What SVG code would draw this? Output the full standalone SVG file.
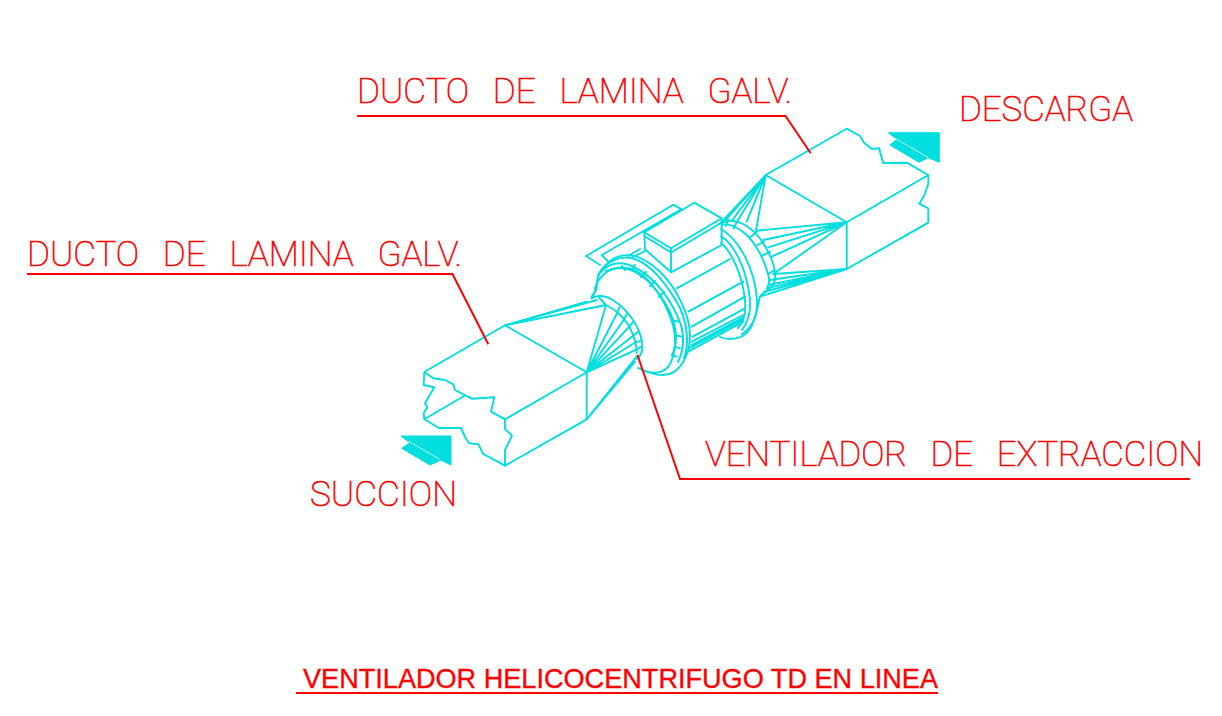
<svg xmlns="http://www.w3.org/2000/svg" width="1222" height="716" viewBox="0 0 1222 716">
<style>
.c{fill:none;stroke:#00dede;stroke-width:1.9;stroke-linejoin:round;stroke-linecap:round}
.t{fill:#00dede;stroke:#00dede;stroke-width:1}
.w{stroke:#fff;stroke-width:.8;fill:none}
.l{fill:none;stroke:#f00;stroke-width:2}
text{fill:#f00;white-space:pre}
.m{font-family:"Roboto","Liberation Sans",sans-serif;font-weight:100;font-size:35px;stroke:#f00;stroke-width:.65;word-spacing:3.5px}
.h{font-family:"Liberation Sans",Arial,sans-serif;font-size:27.500px;stroke:#f00;stroke-width:.35}
</style>
<rect width="1222" height="716" fill="#fff"/>
<g id="duct-suction">
<path class="c" d="M424.3 372L505 325.3L586.7 372.3L505 419.3M424.3 372L433.3 378.3L445 380L453.3 384.3L455 390L471.7 398.7L494.3 397.3L491 411.7L505 419.3M424.3 372L423.7 385L434.3 387.3L425 403.3L427.3 407.3L423.7 413.3L424.3 419.3L464 396M424.3 419.3L439 428L461 428L465.7 438.3L469.3 443.3L478.3 444.3L483.3 454L505 465.7L586.7 419.3L586.7 372.3M505 419.3L505 429L512 435.7L505 450L505 465.7"/>
<path class="c" d="M505 325.3L586.7 301.7M505 325.3L596.7 300M505 325.3L606 305M586.7 372.3L606 305M586.7 372.3L616.7 314M586.7 372.3L623.3 320.7M586.7 372.3L629.3 326.7M586.7 372.3L634 335M586.7 372.3L635.7 342.3M586.7 372.3L636.7 349.3M586.7 419.3L637 356M586.7 419.3L635 361.7M586.7 419.3L630 365"/>
</g>
<g id="duct-discharge">
<path class="c" d="M765.7 175L846.7 128.7L860 136L864 142.7L872 149L879 148.3L883.3 163L906.7 162.7L928.3 175L846.7 222.3L765.7 175M846.7 222.3L846.7 269L928.3 222.7L928.3 208.3L919.3 203.7L924 196L928.3 184L928.3 175"/>
<path class="c" d="M765.7 175L720.7 223M765.7 175L723.3 222.7M765.7 175L731.7 221M765.7 175L738 220M765.7 175L746.7 221.7M765.7 175L756 230.7M846.7 222.3L756 230.7M846.7 222.3L763.3 240M846.7 222.3L768.3 247.3M846.7 222.3L771.7 256.7M846.7 222.3L773.3 274M846.7 269L773.3 274M846.7 269L770 280M846.7 269L768.3 285M846.7 269L766.7 288.3M846.7 269L764 292M846.7 269L760 296.7"/>
</g>
<g id="fan">
<path class="c" d="M586 256L673.3 204.7L681.7 209.3L643.3 231.7M601.7 255L680 210M586 256L600 265M601.7 255L608.3 261.7M640 249L628 256M645 251L633 257"/>
<path class="c" d="M644.3 232.3L694.3 202.7L721.7 218.3L671 248.3L644.3 232.3M645 236.500L671 252.500L721.7 222.500M644.3 232.3L645 249.3L671 272.3M671 248.3L671 272.3M721.7 218.3L721.7 245L671 272.3"/>
<path class="c" d="M676.7 288.3L730 259M688.3 311.7L743.3 281.7M691.7 326.7L745 296.7M692.7 336.7L745 308.3M691.7 341.7L743.3 315M691.7 345L743.3 317.3M690 348L743.3 319.3M688.3 351.7L743.3 321.7"/>
<path class="c" d="M721.7 222.7C728 220 735 220 743 224C757 231 766 246 771 258C776 270 777 280 771.7 286.7C768 291 762 293 760 296.7C758 303 757 318 750 328.7C745 337 737 339 730 339C725 339 722 338 720 337"/>
<path class="c" d="M721.7 225C728 223 735 225 746.7 235C755 243 764 258 768.3 275C770 281 769 285 767.3 288"/>
<path class="c" d="M728 219.500L726 226M737 221.500L733.500 228.500M756.7 231.7L750.7 236.7M764 241.7L757.7 245M770 251.7L762.7 255.3M774.3 270L768.3 274"/>
<path class="c" d="M721 229C740 240 755 270 757 300C758 315 752 328 742 334M721 236C735 245 747 270 750 300C751 312 748 322 742 330M721 243C730 250 742 272 745 300C746 312 744 322 738 328"/>
<path class="c" d="M591.7 296.7C594 292 597 290 596.7 288C596 278 600 268 613 259C625 252 641 254 660 271.7C676 287 690 315 690 335C690 355 680 375 663 375C655 375 648 373 638 368"/>
<path class="c" d="M598 275C605 263 618 255 633 258.500C650 263 668 285 680 308C688 326 689 345 684 358"/>
<path class="c" d="M601 272C612 260 625 262 636.7 268.3C655 278 672 300 681 325C685 340 683 352 678 362"/>
<path class="c" d="M606 271C618 266 630 268 640 275C655 285 668 305 673 320C677 332 677 345 672 356"/>
<path class="c" d="M591.7 298.3C594 294 596 292 595 288.3C597 282 598 280 603.3 275C610 268 622 265 635 270C650 278 665 300 672 322C677 338 676 355 668.3 366.7C662 374 650 375 640 368.3"/>
<path class="c" d="M591.7 298.3C597 295 605 295 612 299.500C626 308 640 325 642.3 344C643 351 641 356 636.7 359"/>
<path class="c" d="M606 305C615 309 625 318 630 328C635 338 637 346 636.7 353.3M599 297.500L606 305"/>
<path class="c" d="M619.3 307.3L616.7 314M626.7 314L623.3 320.7M633.3 321.7L629.3 326.7M638.3 331.7L634 335M641 340.7L635.7 342.3M641.7 346.7L636.7 349.3"/>
<path class="c" d="M678.3 321.7L671.7 320M681.7 336.7L675 335M680 348.3L674.3 346.7M676.7 356.7L671.7 355M621.7 266L625 270M635 265L632 270M646 272L641 277M655 281L650 286M664 292L659 297"/>
</g>
<g id="arrows">
<path class="t" d="M401 436L451 436L451 465L441 460L430 465L401.7 448.3L410 442.7Z"/>
<path class="w" d="M409 441.500L440 459.500"/>
<path class="t" d="M888.3 132.7L939.3 132.7L939.3 162.3L928 157.7L919 162.3L890 145L896.7 139.3Z"/>
<path class="w" d="M895 138.3L928.3 157.7"/>
</g>
<g id="leaders">
<path class="l" d="M357 116H785.500L810.700 153.300"/>
<path class="l" d="M27 274H452.500L488.300 344.300"/>
<path class="l" d="M1190 479H680L637.500 355"/>
<path class="l" d="M296 693H938"/>
</g>
<g id="labels">
<text class="m" x="357" y="103" textLength="435" lengthAdjust="spacingAndGlyphs">DUCTO  DE  LAMINA  GALV.</text>
<text class="m" x="27" y="266" textLength="435" lengthAdjust="spacingAndGlyphs">DUCTO  DE  LAMINA  GALV.</text>
<text class="m" x="959" y="121" textLength="174" lengthAdjust="spacingAndGlyphs">DESCARGA</text>
<text class="m" x="310" y="506" textLength="147" lengthAdjust="spacingAndGlyphs">SUCCION</text>
<text class="m" x="705" y="466" textLength="498" lengthAdjust="spacingAndGlyphs">VENTILADOR  DE  EXTRACCION</text>
<text class="h" x="303" y="688" textLength="635" lengthAdjust="spacingAndGlyphs">VENTILADOR HELICOCENTRIFUGO TD EN LINEA</text>
</g>
</svg>
